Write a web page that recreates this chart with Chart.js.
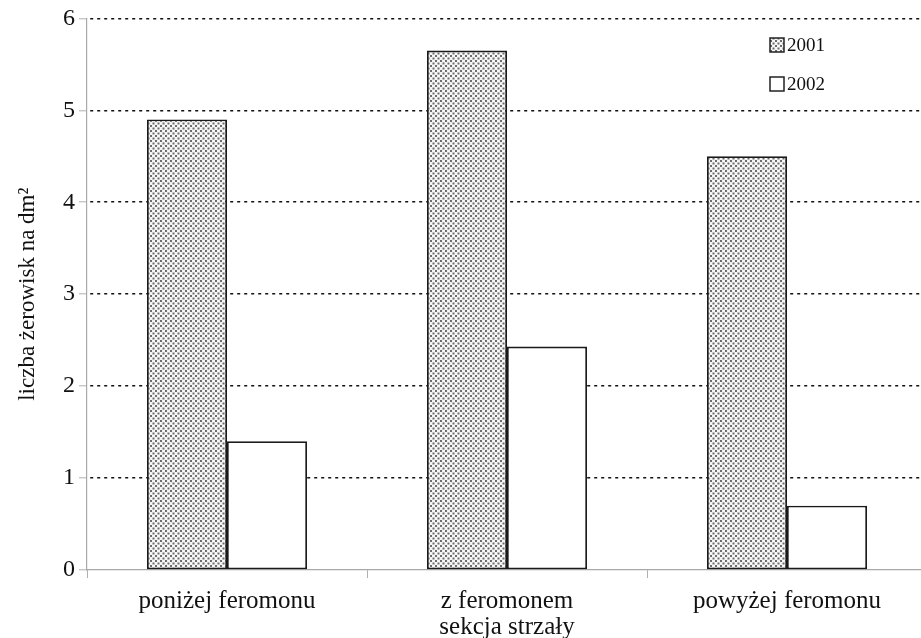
<!DOCTYPE html>
<html>
<head>
<meta charset="utf-8">
<script src="https://cdn.jsdelivr.net/npm/chart.js@4.4.1/dist/chart.umd.min.js"></script>
<style>
  html, body { margin: 0; padding: 0; background: #fff; overflow: hidden; }
  #wrap { position: relative; width: 927px; height: 638px; }
</style>
</head>
<body>
<div id="wrap"><canvas id="c"></canvas></div>
<script>
// Feeding sites per dm² by trunk section and year
const categories = ['poniżej feromonu', 'z feromonem', 'powyżej feromonu'];
const seriesNames = ['2001', '2002'];
const values2001 = [4.9, 5.65, 4.5];
const values2002 = [1.4, 2.43, 0.7];
const yTicks = [0, 1, 2, 3, 4, 5, 6];
const yTitle = 'liczba żerowisk na dm²';
const xTitle = 'sekcja strzały';

const SERIF = '"Liberation Serif", "DejaVu Serif", serif';

// stippled fill for the 2001 bars
function makeStipple() {
  const t = document.createElement('canvas');
  t.width = 5; t.height = 5;
  const g = t.getContext('2d');
  g.fillStyle = '#f6f6f6';
  g.fillRect(0, 0, 5, 5);
  g.fillStyle = '#6c6c6c';
  g.fillRect(0, 0, 2, 2);
  g.fillRect(2.5, 2.5, 2, 2);
  return g.createPattern(t, 'repeat');
}
const stipple = makeStipple();

// small legend drawn inside the plot, upper right
const cornerLegend = {
  id: 'cornerLegend',
  afterDraw(chart) {
    const ctx = chart.ctx;
    ctx.save();
    ctx.font = '19px ' + SERIF;
    ctx.textBaseline = 'middle';
    ctx.textAlign = 'left';
    chart.data.datasets.forEach((ds, i) => {
      const x = 770, y = 45 + i * 39;
      ctx.fillStyle = ds.backgroundColor;
      ctx.fillRect(x, y - 7, 14, 14);
      ctx.strokeStyle = '#222';
      ctx.lineWidth = 1.5;
      ctx.strokeRect(x, y - 7, 14, 14);
      ctx.fillStyle = '#111';
      ctx.fillText(ds.label, x + 17, y + 1);
    });
    ctx.restore();
  }
};

new Chart(document.getElementById('c'), {
  type: 'bar',
  data: {
    labels: categories,
    datasets: [
      {
        label: seriesNames[0],
        data: values2001,
        backgroundColor: stipple,
        borderColor: '#1a1a1a',
        borderWidth: 1.8,
        borderSkipped: false,
        categoryPercentage: 0.5714,
        barPercentage: 1.0
      },
      {
        label: seriesNames[1],
        data: values2002,
        backgroundColor: '#ffffff',
        borderColor: '#1a1a1a',
        borderWidth: 1.8,
        borderSkipped: false,
        categoryPercentage: 0.5714,
        barPercentage: 1.0
      }
    ]
  },
  options: {
    responsive: true,
    maintainAspectRatio: false,
    animation: false,
    devicePixelRatio: 1,
    layout: { padding: { top: 18, right: 0, bottom: 0, left: 0 } },
    plugins: {
      legend: { display: false },
      tooltip: { enabled: false }
    },
    scales: {
      x: {
        offset: true,
        grid: {
          offset: true,
          drawOnChartArea: false,
          drawTicks: true,
          tickLength: 8,
          tickColor: '#b0b0b0',
          tickWidth: 1
        },
        border: { display: true, color: '#a8a8a8', width: 1.2 },
        ticks: {
          color: '#111',
          font: { family: SERIF, size: 25 },
          padding: 8,
          maxRotation: 0
        },
        title: {
          display: true,
          text: xTitle,
          color: '#111',
          font: { family: SERIF, size: 25 },
          padding: { top: 0, bottom: -4 }
        },
        afterFit(scale) { scale.height = 68; }
      },
      y: {
        min: 0,
        max: 6,
        afterBuildTicks(scale) { scale.ticks = yTicks.map(v => ({ value: v })); },
        grid: {
          color: ctx => (ctx.tick && ctx.tick.value === 0) ? 'rgba(0,0,0,0)' : '#111',
          lineWidth: 1.6,
          drawTicks: true,
          tickLength: 8,
          tickColor: '#b0b0b0',
          tickWidth: 1,
          tickBorderDash: []
        },
        border: { display: true, color: '#a8a8a8', width: 1.2, dash: [3, 4], dashOffset: -3 },
        ticks: {
          color: '#111',
          font: { family: SERIF, size: 24 },
          padding: 4
        },
        title: {
          display: true,
          text: yTitle,
          color: '#111',
          font: { family: SERIF, size: 23 },
          padding: { top: 14, bottom: 0 }
        },
        afterFit(scale) { scale.width = 87; }
      }
    }
  },
  plugins: [cornerLegend]
});
</script>
</body>
</html>
